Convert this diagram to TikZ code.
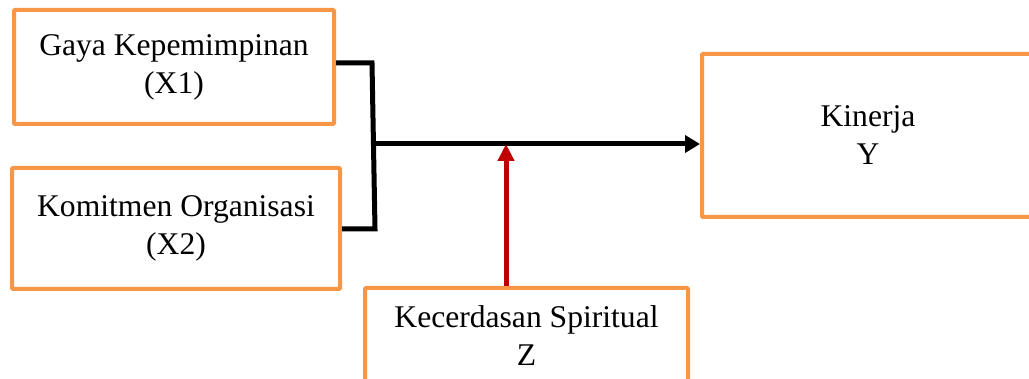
\documentclass[tikz,border=0pt]{standalone}
\usepackage{fontspec}
\setmainfont{Liberation Serif}
\usetikzlibrary{arrows.meta}
\definecolor{boxorange}{RGB}{247,150,70}
\definecolor{linkred}{RGB}{192,0,0}
\begin{document}
\begin{tikzpicture}[x=1pt,y=-1pt,
  varbox/.style={draw=boxorange, line width=4pt, rounded corners=1pt,
    fill=white, align=center, inner sep=0pt,
    font=\fontsize{31.6}{38}\selectfont},
  link/.style={line width=5pt, black},
  moderator/.style={line width=5pt, linkred,
    -{Triangle[length=17pt,width=16pt]}}
]
\useasboundingbox (0,0) rectangle (1029,379);

% variable boxes
\node[varbox, minimum width=320pt, minimum height=114pt] (X1) at (174,67)
  {Gaya Kepemimpinan\\(X1)};
\node[varbox, minimum width=328pt, minimum height=121pt] (X2) at (176,228.5)
  {Komitmen Organisasi\\(X2)};
\node[varbox, minimum width=332pt, minimum height=163pt] (Y) at (868,135.5)
  {Kinerja\\Y};
\node[varbox, minimum width=323pt, minimum height=96pt] (Z) at (526.5,336)
  {Kecerdasan Spiritual\\Z};

% junction points of the bracket
\coordinate (b1) at (372,63);
\coordinate (b2) at (375,229);
\coordinate (j) at (373,144);
\coordinate (m) at (506,144);

% bracket joining X1 and X2
\draw[link, line join=miter] (X1.east |- b1) -- (b1) -- (b2) -- (X2.east |- b2);

% combined path to Kinerja
\draw[link, -{Triangle[length=15pt,width=17pt]}] (j) -- (j -| Y.west);

% moderating effect of Z
\draw[moderator] (Z.north -| m) -- (m);
\end{tikzpicture}
\end{document}
